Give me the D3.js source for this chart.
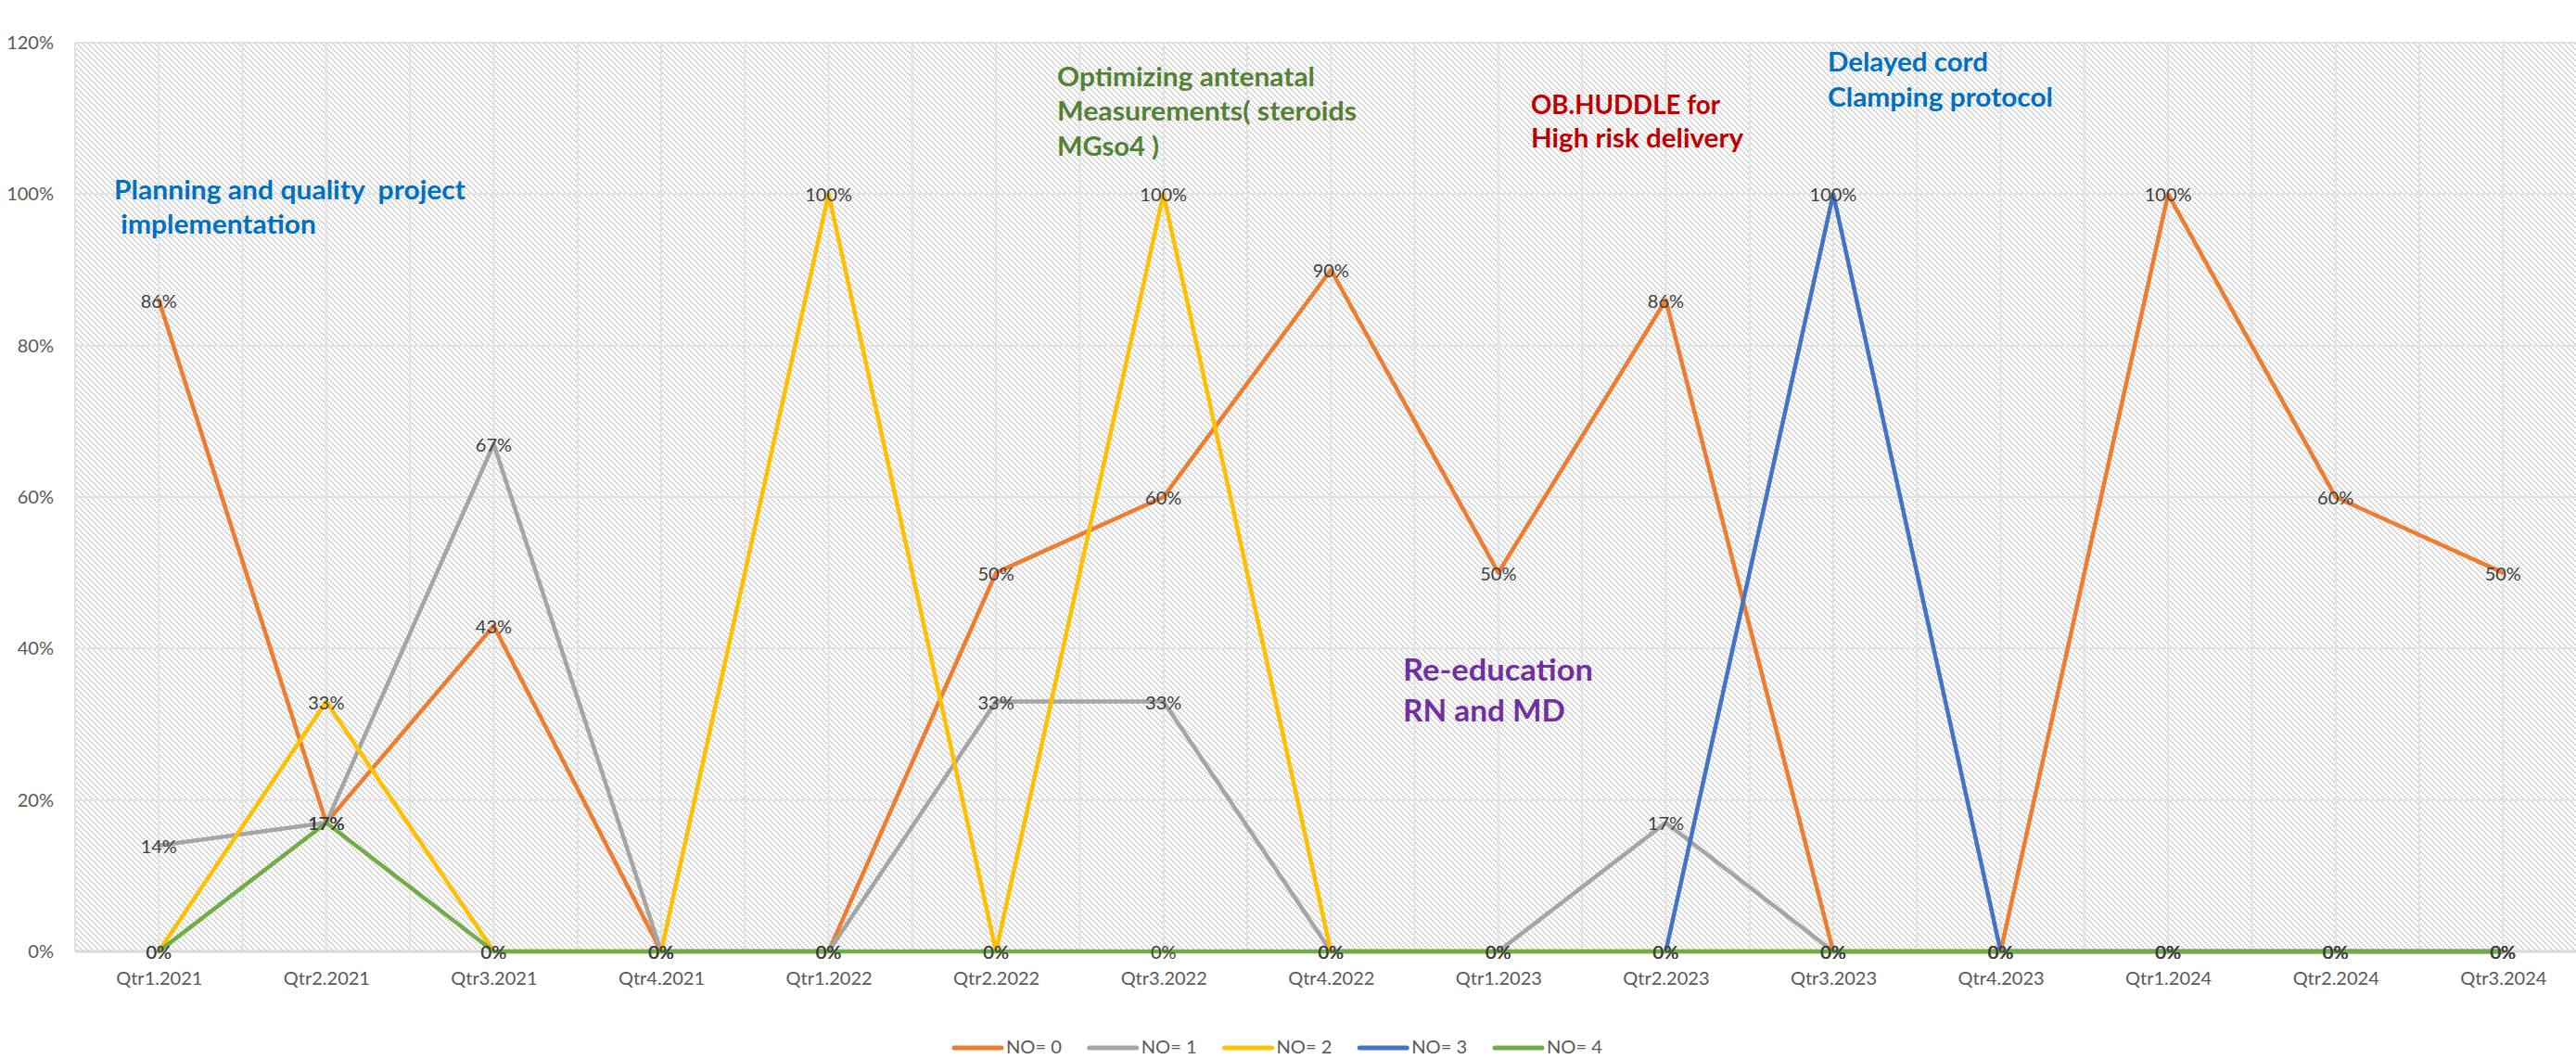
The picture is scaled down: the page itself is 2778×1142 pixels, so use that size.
<!DOCTYPE html>
<html>
<head>
<meta charset="utf-8">
<script src="https://cdn.jsdelivr.net/npm/d3@7"></script>
<style>
  html, body { margin: 0; padding: 0; background: #ffffff; overflow: hidden; }
  text { font-family: Lato, "Open Sans", "Noto Sans", sans-serif; }
</style>
</head>
<body>
<svg id="chart" width="2778" height="1142"></svg>
<script>
// ---- data ----
const quarters = ["Qtr1.2021", "Qtr2.2021", "Qtr3.2021", "Qtr4.2021",
                  "Qtr1.2022", "Qtr2.2022", "Qtr3.2022", "Qtr4.2022",
                  "Qtr1.2023", "Qtr2.2023", "Qtr3.2023", "Qtr4.2023",
                  "Qtr1.2024", "Qtr2.2024", "Qtr3.2024"];
const seriesNames = ["NO= 0", "NO= 1", "NO= 2", "NO= 3", "NO= 4"];
const no0 = [0.86, 0.17, 0.43, 0, 0, 0.50, 0.60, 0.90, 0.50, 0.86, 0, 0, 1.00, 0.60, 0.50];
const no1 = [0.14, 0.17, 0.67, 0, 0, 0.33, 0.33, 0, 0, 0.17, 0, 0, 0, 0, 0];
const no2 = [0, 0.33, 0, 0, 1.00, 0, 1.00, 0, 0, 0, 0, 0, 0, 0, 0];
const no3 = [null, null, null, null, null, null, null, null, null, 0, 1.00, 0, 0, 0, 0];
const no4 = [0, 0.17, 0, 0, 0, 0, 0, 0, 0, 0, 0, 0, 0, 0, 0];
const yTicks = [0, 0.2, 0.4, 0.6, 0.8, 1.0, 1.2];

const notes = [
  { lines: ["Planning and quality  project", " implementation"], color: "#0070C0" },
  { lines: ["Optimizing antenatal", "Measurements( steroids", "MGso4 )"], color: "#538135" },
  { lines: ["OB.HUDDLE for", "High risk delivery"], color: "#C00000" },
  { lines: ["Delayed cord", "Clamping protocol"], color: "#0070C0" },
  { lines: ["Re-education", "RN and MD"], color: "#7030A0" }
];

// ---- styling / layout ----
const seriesValues = [no0, no1, no2, no3, no4];
const colors = ["#ED7D31", "#A5A5A5", "#FFC000", "#4472C4", "#70AD47"];
const noteLayout = [
  { x: 123, y: [215, 252], size: 28, len: [379, 218] },
  { x: 1140, y: [93, 130, 168], size: 28, len: [278, 323, 110] },
  { x: 1651, y: [123, 159], size: 28, len: [204, 229] },
  { x: 1971, y: [77, 115], size: 28, len: [173, 243] },
  { x: 1513, y: [734, 778], size: 32, len: [205, 175] }
];

const plot = { left: 81, top: 46, bottom: 1026, step: 180.57 };
plot.right = plot.left + plot.step * quarters.length;

const svg = d3.select("#chart");

// light downward-diagonal fill of the plot area
const defs = svg.append("defs");
const pat = defs.append("pattern")
  .attr("id", "hatch")
  .attr("patternUnits", "userSpaceOnUse")
  .attr("width", 6).attr("height", 6);
pat.append("rect").attr("width", 6).attr("height", 6).attr("fill", "#ffffff");
[0, 2, 4].forEach(k => {
  pat.append("rect").attr("x", k).attr("y", k)
    .attr("width", 2).attr("height", 2).attr("fill", "#d6d6d6");
});

const x = d3.scalePoint().domain(quarters)
  .range([plot.left, plot.right]).padding(0.5);
const y = d3.scaleLinear().domain([0, 1.2]).range([plot.bottom, plot.top]);

// plot background
svg.append("rect")
  .attr("x", plot.left).attr("y", plot.top)
  .attr("width", plot.right - plot.left).attr("height", plot.bottom - plot.top)
  .attr("fill", "url(#hatch)");

// vertical gridlines at category centres and boundaries
const vLines = [];
quarters.forEach(q => { vLines.push(x(q) - plot.step / 2); vLines.push(x(q)); });
vLines.push(plot.right);
svg.append("g").selectAll("line").data(vLines).join("line")
  .attr("x1", d => d).attr("x2", d => d)
  .attr("y1", plot.top).attr("y2", plot.bottom)
  .attr("stroke", "#e2e2e2").attr("stroke-width", 2);

// horizontal gridlines
svg.append("g").selectAll("line").data(yTicks.filter(t => t > 0)).join("line")
  .attr("x1", plot.left).attr("x2", plot.right)
  .attr("y1", d => y(d)).attr("y2", d => y(d))
  .attr("stroke", "#e2e2e2").attr("stroke-width", 2);

// category axis line
svg.append("line")
  .attr("x1", plot.left).attr("x2", plot.right)
  .attr("y1", y(0)).attr("y2", y(0))
  .attr("stroke", "#d9d9d9").attr("stroke-width", 3);

// y axis labels
const fmt = d3.format(".0%");
const yAxis = d3.axisLeft(y).tickValues(yTicks).tickFormat(fmt).tickSize(0).tickPadding(0);
const yg = svg.append("g").attr("transform", `translate(${plot.left - 23},0)`).call(yAxis);
yg.select(".domain").remove();
yg.selectAll("text").attr("font-size", 20).attr("fill", "#595959")
  .attr("font-family", "Lato, sans-serif");

// x axis labels
const xAxis = d3.axisBottom(x).tickSize(0).tickPadding(0);
const xg = svg.append("g").attr("transform", `translate(0,${plot.bottom + 22})`).call(xAxis);
xg.select(".domain").remove();
xg.selectAll("text").attr("font-size", 20).attr("fill", "#595959")
  .attr("font-family", "Lato, sans-serif");

// series lines
const line = d3.line()
  .defined(d => d !== null)
  .x((d, i) => x(quarters[i]))
  .y(d => y(d));
svg.append("g").selectAll("path").data(seriesValues).join("path")
  .attr("d", d => line(d))
  .attr("fill", "none")
  .attr("stroke", (d, i) => colors[i])
  .attr("stroke-width", 4.5)
  .attr("stroke-linejoin", "round")
  .attr("stroke-linecap", "round");

// data labels, centred on each point
const labelGroup = svg.append("g");
seriesValues.forEach(vals => {
  const pts = vals.map((v, i) => ({ v, q: quarters[i] })).filter(p => p.v !== null);
  labelGroup.append("g").selectAll("text").data(pts).join("text")
    .attr("x", d => x(d.q))
    .attr("y", d => y(d.v))
    .attr("text-anchor", "middle")
    .attr("dominant-baseline", "central")
    .attr("font-size", 20)
    .attr("fill", "#404040")
    .text(d => fmt(d.v));
});

// annotations
notes.forEach((n, k) => {
  const L = noteLayout[k];
  const t = svg.append("text")
    .attr("fill", n.color)
    .attr("font-weight", "bold")
    .attr("font-size", L.size)
    .style("white-space", "pre");
  n.lines.forEach((s, j) => {
    t.append("tspan")
      .attr("x", L.x).attr("y", L.y[j])
      .attr("textLength", L.len[j])
      .attr("lengthAdjust", "spacingAndGlyphs")
      .text(s);
  });
});

// legend
const legend = svg.append("g");
const legendX = d3.scalePoint().domain(seriesNames).range([1027, 1610]);
seriesNames.forEach((name, i) => {
  const lx = legendX(name);
  legend.append("line")
    .attr("x1", lx + 2).attr("x2", lx + 53)
    .attr("y1", 1130).attr("y2", 1130)
    .attr("stroke", colors[i]).attr("stroke-width", 5)
    .attr("stroke-linecap", "round");
  legend.append("text")
    .attr("x", lx + 58).attr("y", 1136)
    .attr("font-size", 19).attr("fill", "#595959")
    .attr("textLength", 60).attr("lengthAdjust", "spacingAndGlyphs")
    .text(name);
});
</script>
</body>
</html>
